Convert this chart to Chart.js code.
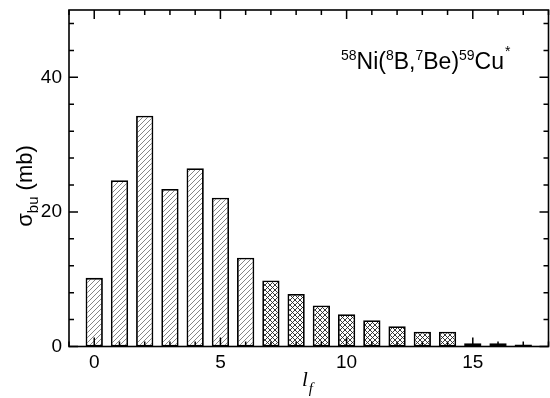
<!DOCTYPE html>
<html>
<head>
<meta charset="utf-8">
<script src="https://cdn.jsdelivr.net/npm/chart.js@4/dist/chart.umd.min.js"></script>
<style>
  html, body { margin: 0; padding: 0; background: #fff; }
  #wrap { width: 550px; height: 398px; position: relative; }
</style>
</head>
<body>
<div id="wrap"><canvas id="c" width="550" height="398"></canvas></div>
<script>
// Final-state orbital angular momentum l_f and breakup cross section (mb)
const lf = [0, 1, 2, 3, 4, 5, 6, 7, 8, 9, 10, 11, 12, 13, 14, 15, 16, 17];
const sigmaBu = [10.2, 24.7, 34.3, 23.4, 26.5, 22.1, 13.2, 9.8, 7.8, 6.1, 4.8, 3.9, 3.0, 2.2, 2.2, 0.5, 0.5, 0.3];

// Axis ranges, labelled ticks and minor tick steps
const xRange = [-1, 18];
const yRange = [0, 50];
const xTickLabels = [0, 5, 10, 15];
const yTickLabels = [0, 20, 40];
const xMinorStep = 1;
const yMinorStep = 4;

// From this l_f on, bars use the cross-hatched fill
const crossFrom = 7;

const FONT = "'Liberation Sans', Arial, Helvetica, sans-serif";
const SERIF = "'Liberation Serif', 'Times New Roman', serif";

function diagPattern() {
  const s = 5;
  const c = document.createElement('canvas');
  c.width = s; c.height = s;
  const g = c.getContext('2d');
  g.fillStyle = '#fff';
  g.fillRect(0, 0, s, s);
  g.strokeStyle = '#666';
  g.lineWidth = 0.8;
  g.beginPath();
  g.moveTo(0, s); g.lineTo(s, 0);
  g.moveTo(-1, 1); g.lineTo(1, -1);
  g.moveTo(s - 1, s + 1); g.lineTo(s + 1, s - 1);
  g.stroke();
  return g.createPattern(c, 'repeat');
}

function crossPattern() {
  const s = 5;
  const c = document.createElement('canvas');
  c.width = s; c.height = s;
  const g = c.getContext('2d');
  g.fillStyle = '#fff';
  g.fillRect(0, 0, s, s);
  g.strokeStyle = '#222';
  g.lineWidth = 0.9;
  g.beginPath();
  g.moveTo(0, s); g.lineTo(s, 0);
  g.moveTo(0, 0); g.lineTo(s, s);
  g.stroke();
  return g.createPattern(c, 'repeat');
}

const diagFill = diagPattern();
const crossFill = crossPattern();

const isMajor = (v, list) => list.indexOf(v) !== -1;

function clearPadding(s) {
  s.paddingTop = 0; s.paddingBottom = 0;
  s.paddingLeft = 0; s.paddingRight = 0;
}

// Frame, inward ticks on all four sides, and the text labels
const framePlugin = {
  id: 'frame',
  beforeDraw(chart) {
    const ctx = chart.ctx;
    ctx.save();
    ctx.fillStyle = '#fff';
    ctx.fillRect(0, 0, chart.width, chart.height);
    ctx.restore();
  },
  afterDatasetsDraw(chart) {
    const { ctx, chartArea: a, scales: { x, y } } = chart;
    ctx.save();
    ctx.strokeStyle = '#000';
    ctx.lineWidth = 1.5;
    ctx.beginPath();
    for (let v = Math.ceil(xRange[0]); v <= xRange[1]; v += xMinorStep) {
      const px = x.getPixelForValue(v);
      const len = isMajor(v, xTickLabels) ? 9 : 5;
      ctx.moveTo(px, a.bottom); ctx.lineTo(px, a.bottom - len);
      ctx.moveTo(px, a.top); ctx.lineTo(px, a.top + len);
    }
    for (let v = yRange[0]; v <= yRange[1]; v += yMinorStep) {
      const py = y.getPixelForValue(v);
      const len = isMajor(v, yTickLabels) ? 9 : 5;
      ctx.moveTo(a.left, py); ctx.lineTo(a.left + len, py);
      ctx.moveTo(a.right, py); ctx.lineTo(a.right - len, py);
    }
    ctx.stroke();
    ctx.lineWidth = 1.6;
    ctx.strokeRect(a.left, a.top, a.right - a.left, a.bottom - a.top);
    ctx.restore();
  },
  afterDraw(chart) {
    const ctx = chart.ctx;
    ctx.save();
    ctx.fillStyle = '#000';
    ctx.textBaseline = 'alphabetic';
    ctx.textAlign = 'left';

    // y-axis title: σ_bu (mb)
    const mainF = '22px ' + FONT, subF = '15px ' + FONT;
    ctx.font = mainF; const wS = ctx.measureText('σ').width;
    const wR = ctx.measureText(' (mb)').width;
    ctx.font = subF; const wB = ctx.measureText('bu').width;
    const total = wS + wB + wR;
    ctx.translate(32, 186);
    ctx.rotate(-Math.PI / 2);
    let cx = -total / 2;
    ctx.font = mainF; ctx.fillText('σ', cx, 0); cx += wS;
    ctx.font = subF; ctx.fillText('bu', cx, 6); cx += wB;
    ctx.font = mainF; ctx.fillText(' (mb)', cx, 0);
    ctx.setTransform(1, 0, 0, 1, 0, 0);

    // x-axis title: l_f
    ctx.font = 'italic 21px ' + SERIF;
    ctx.fillText('l', 302, 386);
    const wl = ctx.measureText('l').width;
    ctx.font = 'italic 15px ' + SERIF;
    ctx.fillText('f', 302 + wl + 1, 393);

    // Reaction label: 58Ni(8B,7Be)59Cu*
    const parts = [
      ['58', 'sup'], ['Ni(', 'main'], ['8', 'sup'], ['B,', 'main'],
      ['7', 'sup'], ['Be)', 'main'], ['59', 'sup'], ['Cu', 'main'], ['*', 'star']
    ];
    let tx = 341;
    const base = 69;
    for (const [t, kind] of parts) {
      if (kind === 'main') { ctx.font = '23px ' + FONT; ctx.fillText(t, tx, base); }
      else if (kind === 'sup') { ctx.font = '14px ' + FONT; ctx.fillText(t, tx, base - 9); }
      else { ctx.font = '14px ' + FONT; ctx.fillText(t, tx + 1, base - 13); }
      tx += ctx.measureText(t).width;
    }
    ctx.restore();
  }
};

new Chart(document.getElementById('c'), {
  type: 'bar',
  data: {
    datasets: [{
      data: lf.map((l, i) => ({ x: l, y: sigmaBu[i] })),
      backgroundColor: c => (c.raw && c.raw.x >= crossFrom ? crossFill : diagFill),
      borderColor: '#000',
      borderWidth: 1.8,
      borderSkipped: false,
      barPercentage: 0.685,
      categoryPercentage: 1
    }]
  },
  options: {
    responsive: false,
    animation: false,
    events: [],
    layout: { padding: { left: 0, right: 1.5, top: 10, bottom: 0 } },
    plugins: { legend: { display: false }, tooltip: { enabled: false }, title: { display: false } },
    scales: {
      x: {
        type: 'linear',
        offset: false,
        min: xRange[0], max: xRange[1],
        grid: { display: false, drawTicks: false, offset: false },
        border: { display: false },
        afterBuildTicks: s => { s.ticks = xTickLabels.map(v => ({ value: v })); },
        afterFit: s => { s.height = 51.5; clearPadding(s); },
        ticks: {
          autoSkip: false, maxRotation: 0,
          padding: 5,
          color: '#000',
          font: { family: FONT, size: 19 },
          callback: v => String(v)
        }
      },
      y: {
        min: yRange[0], max: yRange[1],
        grid: { display: false, drawTicks: false },
        border: { display: false },
        afterBuildTicks: s => { s.ticks = yTickLabels.map(v => ({ value: v })); },
        afterFit: s => { s.width = 69; clearPadding(s); },
        ticks: {
          padding: 7,
          color: '#000',
          font: { family: FONT, size: 19 },
          callback: v => String(v)
        }
      }
    }
  },
  plugins: [framePlugin]
});
</script>
</body>
</html>
